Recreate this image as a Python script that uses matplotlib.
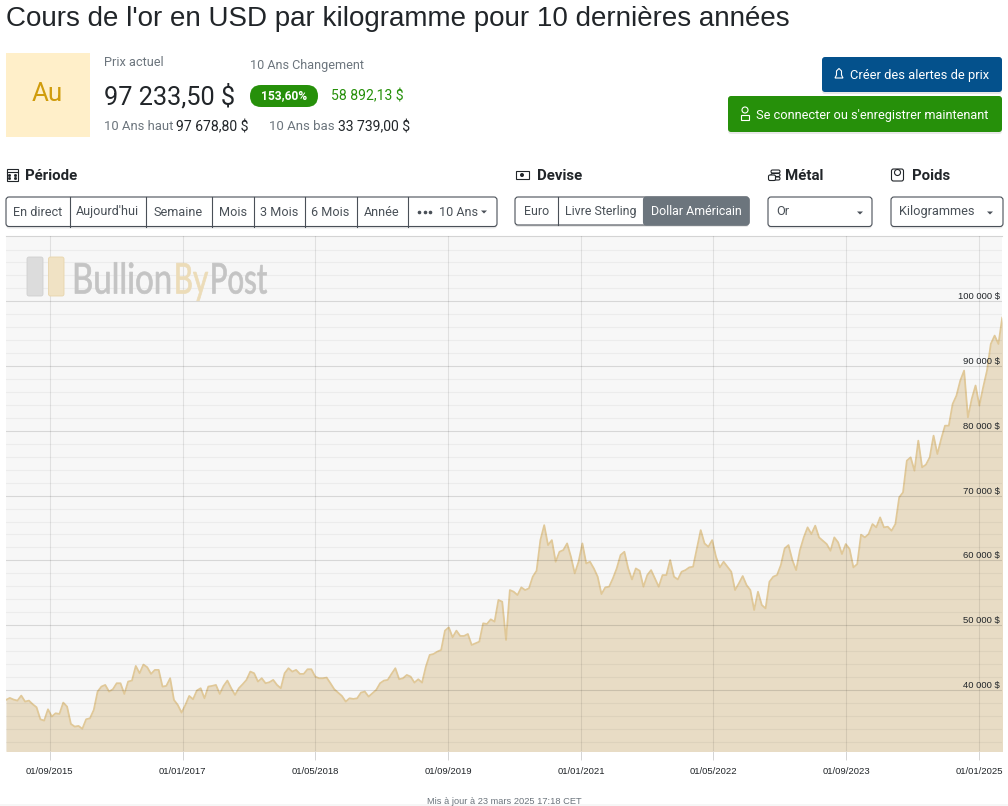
import matplotlib
matplotlib.use('Agg')
import matplotlib.pyplot as plt
import matplotlib.dates as mdates
import numpy as np
import pandas as pd
from matplotlib.font_manager import FontProperties
from matplotlib.patches import FancyBboxPatch, PathPatch, Rectangle, Circle, Polygon
from matplotlib.textpath import TextPath
from matplotlib.transforms import Affine2D

plt.rcParams['font.family'] = ['Roboto', 'DejaVu Sans']

# gold price, one reading every 14 days from the start of the chart
START_DATE = '2015-03-25'
STEP_DAYS = 14
prices = [
    38455, 38764, 38506, 38350, 39125, 38200, 38350, 37785, 37320, 35470, 35260, 37010, 35880,
    36395, 36290, 38040, 37425, 34750, 34335, 34440, 34000, 35470, 35620, 36910, 39740, 40515,
    40770, 39740, 40100, 41030, 41030, 39380, 41290, 41440, 43700, 42575, 43915, 43500, 42470,
    43090, 43090, 40515, 40620, 41800, 38455, 37680, 36500, 37680, 39070, 38560, 39900, 40260,
    38710, 40515, 40620, 40770, 39380, 40620, 41440, 40260, 39230, 40260, 40875, 41545, 42830,
    42575, 41290, 41800, 41030, 41185, 41545, 40770, 40260, 42575, 43350, 42830, 43090, 42470,
    42470, 43190, 43190, 42060, 41800, 41800, 41905, 41030, 40100, 39590, 39070, 38200, 38710,
    38610, 38710, 39590, 39740, 38970, 39485, 40000, 41030, 41440, 41545, 42470, 43350, 41650,
    41800, 42310, 42055, 41130, 41645, 41130, 43600, 45400, 45550, 45910, 46170, 49150, 49660,
    48120, 49150, 48330, 48330, 48635, 46940, 47200, 47450, 50280, 50180, 50900, 50540, 53880,
    53620, 47710, 55420, 55160, 54650, 55830, 55420, 55680, 57480, 58400, 63130, 65440, 62360,
    63130, 59790, 61330, 61590, 62620, 60560, 57990, 59790, 62620, 59530, 59790, 58760, 57480,
    54800, 55830, 55930, 57220, 58760, 60820, 61330, 58760, 57060, 58760, 58400, 55930, 57730,
    58500, 57220, 55930, 57730, 57730, 60050, 57480, 57060, 58250, 58500, 58920, 59020, 61850,
    64670, 62620, 62100, 63130, 60560, 58920, 59790, 59020, 58250, 55420, 56450, 57580, 56190,
    55420, 52340, 55160, 53110, 52590, 56700, 57480, 57730, 59280, 61850, 62360, 60050, 58500,
    61590, 63550, 65100, 64070, 65360, 63550, 63040, 62520, 61490, 63550, 62780, 60980, 62520,
    61750, 58920, 59430, 63970, 63550, 64070, 65610, 65100, 66640, 65100, 65200, 64580, 65610,
    69730, 70500, 75400, 75910, 73850, 78490, 74370, 74780, 75910, 79260, 76430, 78750, 80800,
    80800, 84150, 85440, 87760, 89300, 82090, 84930, 87000, 83900, 86730, 89300, 93420, 94710,
    93420, 97540, 97233,
]
x_tick_dates = ['2015-09-01', '2017-01-01', '2018-05-01', '2019-09-01',
                '2021-01-01', '2022-05-01', '2023-09-01', '2025-01-01']
x_tick_labels = ['01/09/2015', '01/01/2017', '01/05/2018', '01/09/2019',
                 '01/01/2021', '01/05/2022', '01/09/2023', '01/01/2025']
y_major = [40000, 50000, 60000, 70000, 80000, 90000, 100000]
y_labels = ['40 000 $', '50 000 $', '60 000 $', '70 000 $', '80 000 $', '90 000 $', '100 000 $']
y_minor = np.arange(32000, 110000, 2000)

period_labels = ['En direct', "Aujourd'hui", 'Semaine', 'Mois', '3 Mois', '6 Mois', 'Année']
period_edges = [6, 69.5, 145.5, 211.5, 253.5, 304.5, 356.5, 407.5]
currency_labels = ['Euro', 'Livre Sterling', 'Dollar Américain']
currency_edges = [515, 557.5, 643.5, 749]

W, H = 1008, 806
DARK = '#212529'
GREY = '#6c757d'
BORDER = '#4a5058'
GREEN = '#26900a'
BLUE = '#04518c'

dates = pd.date_range(START_DATE, periods=len(prices), freq=f'{STEP_DAYS}D')
fig = plt.figure(figsize=(W / 100, H / 100), dpi=100, facecolor='white')

# price chart
ax = fig.add_axes([6 / W, 1 - 751 / H, 996 / W, 515 / H], zorder=1)
ax.set_facecolor('#f7f7f7')
ax.fill_between(dates, prices, 0, color='#e8dcc5', lw=0, zorder=1)
ax.plot(dates, prices, color='#e0c898', lw=1.3, zorder=2)
ax.set_xlim(mdates.date2num(pd.Timestamp('2015-03-25')), mdates.date2num(pd.Timestamp('2025-03-25')))
ax.set_ylim(30570, 110090)

ax.set_xticks(mdates.date2num(pd.to_datetime(x_tick_dates)))
ax.set_xticklabels(x_tick_labels, fontsize=6.8, color=DARK, family='Liberation Sans')
ax.tick_params(axis='x', length=6.5, width=0.7, color='#d4d4d4', pad=5)
ax.set_yticks(y_major)
ax.set_yticks(y_minor, minor=True)
ax.set_yticklabels(y_labels, fontsize=6.8, color=DARK, family='Liberation Sans', ha='right', va='bottom')
ax.tick_params(axis='y', which='both', left=False, right=False, labelleft=False, labelright=True, pad=-5)
ax.set_axisbelow(False)
ax.grid(axis='y', which='major', color='black', alpha=0.13, lw=0.8)
ax.grid(axis='y', which='minor', color='black', alpha=0.045, lw=0.8)
ax.grid(axis='x', which='major', color='black', alpha=0.09, lw=0.8)
for side in ['left', 'right', 'bottom']:
    ax.spines[side].set_visible(False)
ax.spines['top'].set_color('#d4d4d4')
ax.spines['top'].set_linewidth(0.8)

# page furniture, drawn in pixel coordinates
ui = fig.add_axes([0, 0, 1, 1], zorder=2)
ui.set_xlim(0, W)
ui.set_ylim(H, 0)
ui.axis('off')
ui.patch.set_alpha(0)


def px(size):
    return size * 0.72


def label(x, y, s, size=12, color=DARK, ha='left', **kw):
    ui.text(x, y, s, fontsize=px(size), color=color, ha=ha, va='center', **kw)


def box(x0, y0, x1, y1, face='white', edge=BORDER, lw=0.8, r=3, shadow=True, **kw):
    if shadow:
        ui.add_patch(FancyBboxPatch((x0, y0 + 2), x1 - x0, y1 - y0, boxstyle=f'round,pad=0,rounding_size={r}',
                                    fc='#d9d9d9', ec='none', alpha=0.6))
    ui.add_patch(FancyBboxPatch((x0, y0), x1 - x0, y1 - y0, boxstyle=f'round,pad=0,rounding_size={r}',
                                fc=face, ec=edge, lw=lw, **kw))


def caret(x, y, color=BORDER):
    ui.add_patch(Polygon([(x - 3, y - 1.5), (x + 3, y - 1.5), (x, y + 1.5)], fc=color, ec='none'))


def squeezed_word(x0, x1, baseline, cap_height, s, color):
    # the logo lettering is much narrower than any installed font
    fp = FontProperties(family='Lato')
    path = TextPath((0, 0), s, size=cap_height / 0.72, prop=fp)
    ext = path.get_extents()
    sx = (x1 - x0) / ext.width
    tr = Affine2D().translate(-ext.x0, 0).scale(sx, -1).translate(x0, baseline)
    ui.add_patch(PathPatch(path.transformed(tr), fc=color, ec=color, lw=0.5))


ui.text(6, 19.5, "Cours de l'or en USD par kilogramme pour 10 dernières années", fontsize=px(27.7),
        color=DARK, family='Liberation Sans', va='center')

ui.add_patch(Rectangle((6, 53), 84, 84, fc='#ffefc9', ec='none'))
label(47, 94, 'Au', 26, '#d09c0c', ha='center')
label(104, 62.5, 'Prix actuel', 12.8, GREY)
label(250, 65, '10 Ans Changement', 12.6, GREY)
label(104, 96.5, '97 233,50 $', 25.3)
ui.add_patch(FancyBboxPatch((250, 85), 68, 22, boxstyle='round,pad=0,rounding_size=11', fc=GREEN, ec='none'))
label(284, 96, '153,60%', 12, 'white', ha='center', weight='bold')
label(331, 96, '58 892,13 $', 14, GREEN)
label(104, 127, '10 Ans haut', 13, GREY)
label(176, 127, '97 678,80 $', 14)
label(269, 127, '10 Ans bas', 13.2, GREY)
label(338, 127, '33 739,00 $', 14)

# action buttons
box(822, 57, 1002, 92, face=BLUE, edge='none')
box(728, 96, 1002, 132, face=GREEN, edge='none')
label(850, 75, 'Créer des alertes de prix', 12.9, 'white')
label(756, 115, "Se connecter ou s'enregistrer maintenant", 12.75, 'white')
ui.add_patch(Polygon([(835, 78), (836.5, 75), (836.5, 71), (839, 68.5), (841.5, 71), (841.5, 75), (843, 78)],
                     fc='none', ec='white', lw=0.8))
ui.add_patch(Circle((745, 110), 3, fc='none', ec='white', lw=0.8))
ui.add_patch(Rectangle((741, 115), 8, 4.5, fc='none', ec='white', lw=0.8))

# section headers and their small icons
for x, s in [(25, 'Période'), (537, 'Devise'), (785.5, 'Métal'), (912, 'Poids')]:
    label(x, 176, s, 15, DARK, weight='bold')
ui.add_patch(Rectangle((6.5, 169), 11, 11.5, fc='none', ec=DARK, lw=0.8))
ui.plot([6.5, 17.5], [172, 172], color=DARK, lw=0.8)
ui.plot([9, 15, 9, 15], [175, 175, 178, 178], ls='none', marker='s', ms=1, color=DARK)
ui.add_patch(Rectangle((515.5, 170.5), 13, 8.5, fc='none', ec=DARK, lw=0.8))
ui.add_patch(Circle((522, 175), 2, fc=DARK, ec='none'))
for y in [170, 173.5, 177]:
    ui.add_patch(FancyBboxPatch((771, y), 9, 3, boxstyle='round,pad=0,rounding_size=1.5', fc='white', ec=DARK, lw=0.8))
ui.add_patch(FancyBboxPatch((768.5, 175), 7, 5.5, boxstyle='round,pad=0,rounding_size=1.5', fc='white', ec=DARK, lw=0.8))
ui.add_patch(FancyBboxPatch((891.5, 169), 12, 12, boxstyle='round,pad=0,rounding_size=2', fc='none', ec=DARK, lw=0.8))
ui.add_patch(Circle((897.5, 172.5), 3, fc='white', ec=DARK, lw=0.8))

# period selector
box(period_edges[0], 197, 497, 226.5)
for i, s in enumerate(period_labels):
    label((period_edges[i] + period_edges[i + 1]) / 2, 212, s, 12.6, '#495057', ha='center')
for x in period_edges[1:]:
    ui.plot([x, x], [197, 226.5], color=BORDER, lw=0.8)
ui.plot([419, 424.5, 430], [212, 212, 212], ls='none', marker='o', ms=1.6, color=BORDER)
label(439, 212, '10 Ans', 12.6, '#495057')
caret(484, 212)

# currency selector
box(currency_edges[0], 197, currency_edges[-1], 225)
box(currency_edges[2], 197, currency_edges[-1], 225, face=GREY, edge=GREY, shadow=False)
ui.add_patch(Rectangle((currency_edges[2], 197), 5, 28, fc=GREY, ec='none'))
ui.plot([currency_edges[1]] * 2, [197, 225], color=BORDER, lw=0.8)
for i, s in enumerate(currency_labels):
    label((currency_edges[i] + currency_edges[i + 1]) / 2, 211.5, s, 12.4,
          'white' if i == 2 else '#495057', ha='center')

# metal and weight dropdowns
box(768, 197, 872, 226.5)
label(776, 211.5, 'Or', 12.8, '#495057')
caret(860, 213)
box(891, 197, 1003, 226.5)
label(899, 211.5, 'Kilogrammes', 12.8, '#495057')
caret(990, 213)

# watermark
ui.add_patch(FancyBboxPatch((27, 257), 16, 39, boxstyle='round,pad=0,rounding_size=2', fc='#dcdcdc', ec='#d0d0d0', lw=0.6))
ui.add_patch(FancyBboxPatch((48.5, 257), 15.5, 39, boxstyle='round,pad=0,rounding_size=2', fc='#f0e2c4', ec='#e8d5ac', lw=0.6))
squeezed_word(75, 170, 293.5, 30.5, 'Bullion', '#c4c4c4')
squeezed_word(176.5, 208, 293.5, 30.5, 'By', '#ecdcb8')
squeezed_word(212.5, 267, 293.5, 30.5, 'Post', '#c4c4c4')

label(504, 801.5, 'Mis à jour à 23 mars 2025 17:18 CET', 9.3, '#6c757d', ha='center', family='Liberation Sans')
ui.add_patch(Rectangle((0, 804), W, 2, fc='#f4f4f4', ec='none', alpha=0.8))

fig.savefig('out.png', dpi=100)
